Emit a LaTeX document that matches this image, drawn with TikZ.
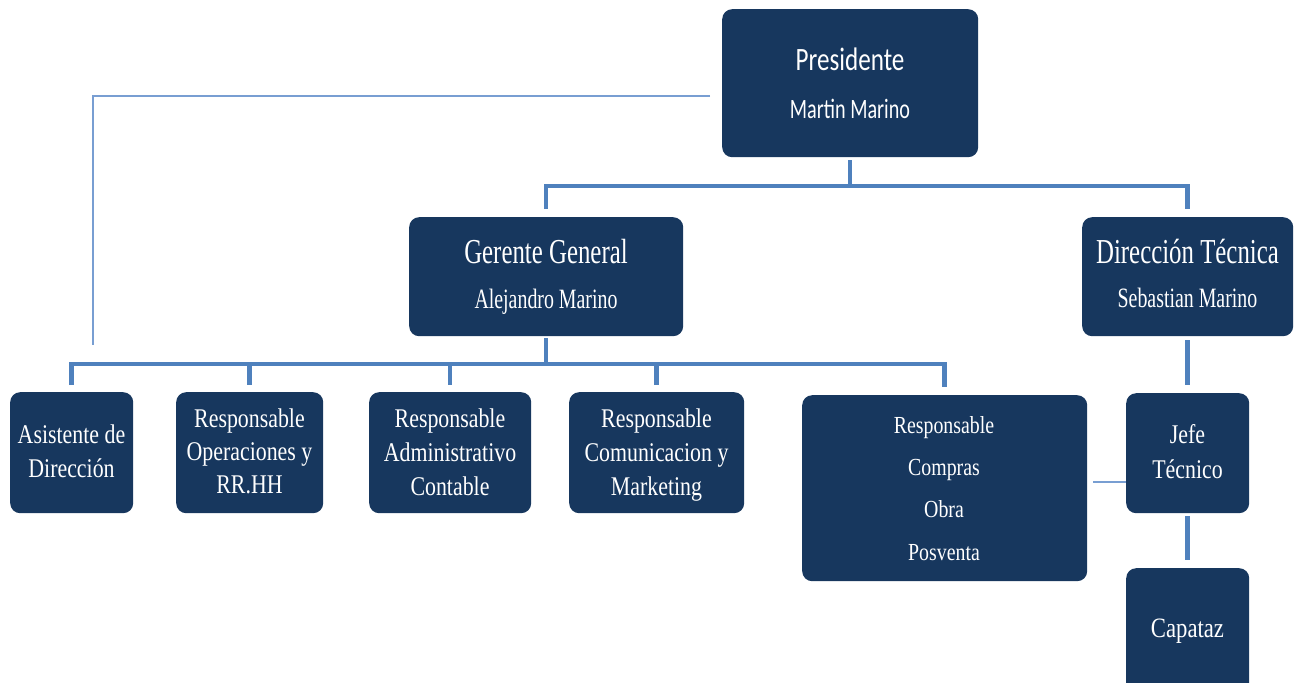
\documentclass[tikz,border=0pt]{standalone}
\usepackage{fontspec}
\newfontfamily\presfont[FakeStretch=0.77]{Carlito}
\newfontfamily\namefont[FakeStretch=0.72]{Carlito}
\newfontfamily\headfont[FakeStretch=0.71]{Liberation Serif}
\newfontfamily\unitfont[FakeStretch=0.81]{Liberation Serif}
\definecolor{boxblue}{RGB}{23,55,94}
\definecolor{linkblue}{RGB}{79,129,189}
\definecolor{faintblue}{RGB}{120,158,210}

\begin{document}
\begin{tikzpicture}[x=1pt,y=-1pt,
  box/.style={fill=boxblue, rounded corners=10pt, inner sep=0pt, anchor=north west},
  txt/.style={text=white, anchor=base, inner sep=0pt},
  ptitle/.style={txt, font={\presfont\fontsize{32.6pt}{36pt}\selectfont}},
  pname/.style={txt, font={\namefont\fontsize{28pt}{32pt}\selectfont}},
  htitle/.style={txt, font={\headfont\fontsize{35pt}{40pt}\selectfont}},
  hname/.style={txt, font={\headfont\fontsize{28pt}{32pt}\selectfont}},
  unit/.style={txt, font={\unitfont\fontsize{27pt}{32pt}\selectfont}},
  unitsm/.style={txt, font={\unitfont\fontsize{24.5pt}{30pt}\selectfont}},
  unitlg/.style={txt, font={\unitfont\fontsize{28pt}{32pt}\selectfont}},
  link/.style={draw=linkblue, line width=4.5pt},
  faint/.style={draw=faintblue, line width=2pt}
]
\useasboundingbox (0,0) rectangle (1294,683);
\clip (0,0) rectangle (1294,683);

% boxes
\node[box, minimum width=256pt, minimum height=148pt] (pres) at (722,9) {};
\node[box, minimum width=274pt, minimum height=119pt] (ger)  at (409,217) {};
\node[box, minimum width=211pt, minimum height=119pt] (dir)  at (1082,217) {};
\node[box, minimum width=123pt, minimum height=121pt] (asis) at (10,392) {};
\node[box, minimum width=147pt, minimum height=121pt] (ops)  at (176,392) {};
\node[box, minimum width=162pt, minimum height=121pt] (adm)  at (369,392) {};
\node[box, minimum width=175pt, minimum height=121pt] (com)  at (569,392) {};
\node[box, minimum width=285pt, minimum height=186pt] (comp) at (802,395) {};
\node[box, minimum width=123pt, minimum height=120pt] (jefe) at (1126,393) {};
\node[box, minimum width=123pt, minimum height=130pt] (cap)  at (1126,568) {};

% texts
\node[ptitle] (pres-a) at (850,70) {Presidente};
\node[pname]  (pres-b) at (850,118) {Martin Marino};
\node[htitle] (ger-a) at (546,263) {Gerente General};
\node[hname]  (ger-b) at (546,308) {Alejandro Marino};
\node[htitle] (dir-a) at (1187.5,263) {Dirección Técnica};
\node[hname]  (dir-b) at (1187.5,307) {Sebastian Marino};
\node[unit] (asis-a) at (71.5,443) {Asistente de};
\node[unit] (asis-b) at (71.5,477) {Dirección};
\node[unit] (ops-a) at (249.5,427) {Responsable};
\node[unit] (ops-b) at (249.5,460) {Operaciones y};
\node[unit] (ops-c) at (249.5,493) {RR.HH};
\node[unit] (adm-a) at (450,427) {Responsable};
\node[unit] (adm-b) at (450,461) {Administrativo};
\node[unit] (adm-c) at (450,495) {Contable};
\node[unit] (com-a) at (656.5,427) {Responsable};
\node[unit] (com-b) at (656.5,461) {Comunicacion y};
\node[unit] (com-c) at (656.5,495) {Marketing};
\node[unitsm] (comp-a) at (944,433) {Responsable};
\node[unitsm] (comp-b) at (944,475) {Compras};
\node[unitsm] (comp-c) at (944,517) {Obra};
\node[unitsm] (comp-d) at (944,560) {Posventa};
\node[unit] (jefe-a) at (1187.5,443) {Jefe};
\node[unit] (jefe-b) at (1187.5,478) {Técnico};
\node[unitlg] (cap-a) at (1187.5,637) {Capataz};

% bus levels
\coordinate (busA) at (0,186);
\coordinate (busB) at (0,364);
\coordinate (asisTop) at (93,345);

% president to first level
\draw[link] ([yshift=-3pt]pres.south) -- (pres.south |- busA);
\draw[link] ([yshift=8pt]ger.north) |- (busA -| dir.north) -- ([yshift=8pt]dir.north);

% general manager to units
\draw[link] ([yshift=-2pt]ger.south) -- (ger.south |- busB);
\draw[link] ([yshift=7pt]asis.north) |- (busB -| comp.north) -- ([yshift=8pt]comp.north);
\foreach \n in {ops,adm,com}
  \draw[link] (\n.north |- busB) -- ([yshift=7pt]\n.north);

% technical branch
\draw[link] ([yshift=-4pt]dir.south) -- ([yshift=8pt]jefe.north);
\draw[link] ([yshift=-3pt]jefe.south) -- ([yshift=8pt]cap.north);

% thin links
\draw[faint] ([shift={(-12pt,-13pt)}]pres.west) -| (asisTop);
\coordinate (cj) at ([shift={(6pt,6pt)}]comp.east);
\draw[faint] (cj) -- (jefe.west |- cj);
\end{tikzpicture}
\end{document}
